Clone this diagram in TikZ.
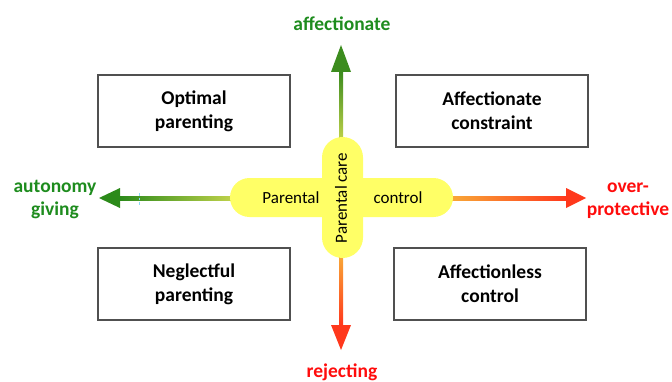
\documentclass[tikz,border=0pt]{standalone}
\usepackage{fontspec}
\setmainfont{Carlito}
\definecolor{pillyellow}{RGB}{255,255,102}
\definecolor{txtgreen}{RGB}{30,140,30}
\definecolor{txtred}{RGB}{255,12,12}
\definecolor{darkgreen}{RGB}{44,138,26}
\definecolor{lightgreen}{RGB}{196,212,76}
\definecolor{topgreen}{RGB}{60,140,30}
\definecolor{paleorange}{RGB}{248,172,56}
\definecolor{hotred}{RGB}{255,56,28}
\definecolor{boxline}{RGB}{80,80,80}
\begin{document}
\begin{tikzpicture}[x=1pt,y=1pt,
  quad/.style={draw=boxline, line width=1.3pt, fill=white,
    minimum width=192pt, minimum height=72pt, align=center,
    font=\fontsize{19.5}{24}\selectfont\bfseries},
  pole/.style={font=\fontsize{19.5}{23}\selectfont\bfseries, align=center},
  pilltext/.style={font=\fontsize{17}{20}\selectfont},
  pill/.style={fill=pillyellow}]
\useasboundingbox (0,0) rectangle (672,381);

% quadrant boxes
\node[quad] (optimal)   at (194,270) {Optimal\\parenting};
\node[quad] (constraint) at (492,270) {Affectionate\\constraint};
\node[quad] (neglect)   at (194,97)  {Neglectful\\parenting};
\node[quad] (affless)   at (490,97)  {Affectionless\\control};

% axis end points
\coordinate (centre) at (341,183);
\coordinate (tipN) at (341,336);
\coordinate (tipS) at (341,31);
\coordinate (tipW) at (99,183);
\coordinate (tipE) at (586,183);

% shafts with colour gradients
\shade[bottom color=lightgreen, top color=topgreen] (339,238) rectangle (343,309);
\shade[top color=paleorange, bottom color=hotred] (339,128) rectangle (343,56);
\shade[right color=lightgreen, left color=darkgreen] (236,181) rectangle (120,185);
\shade[left color=paleorange, right color=hotred] (447,181) rectangle (566,185);

% arrow heads
\fill[topgreen] (331,309) -- (351,309) -- (tipN) -- cycle;
\fill[hotred] (331,56) -- (351,56) -- (tipS) -- cycle;
\fill[darkgreen] (120,173) -- (120,193) -- (tipW) -- cycle;
\fill[hotred] (566,173) -- (566,193) -- (tipE) -- cycle;

% small tick on the left axis
\draw[cyan!45, line width=0.9pt, dash pattern=on 2.5pt off 2pt] (139,188) -- (139,175);

% central cross
\fill[pill, rounded corners=19.5pt] (230,164) rectangle (453,203);
\fill[pill, rounded corners=20.5pt] (322,123) rectangle (363,244);
\node[pilltext] (pleft) at (291,183) {Parental};
\node[pilltext] (pright) at (398,183) {control};
\node[pilltext, rotate=90] (pcare) at (centre) {Parental care};

% pole labels
\node[pole, text=txtgreen, anchor=base] (north) at (342,350) {affectionate};
\node[pole, text=txtred, anchor=base] (south) at (342,4) {rejecting};
\node[pole, text=txtgreen] (west) at (55,181.5) {autonomy\\giving};
\node[pole, text=txtred] (east) at (628,180.5) {over-\\protective};
\end{tikzpicture}
\end{document}
